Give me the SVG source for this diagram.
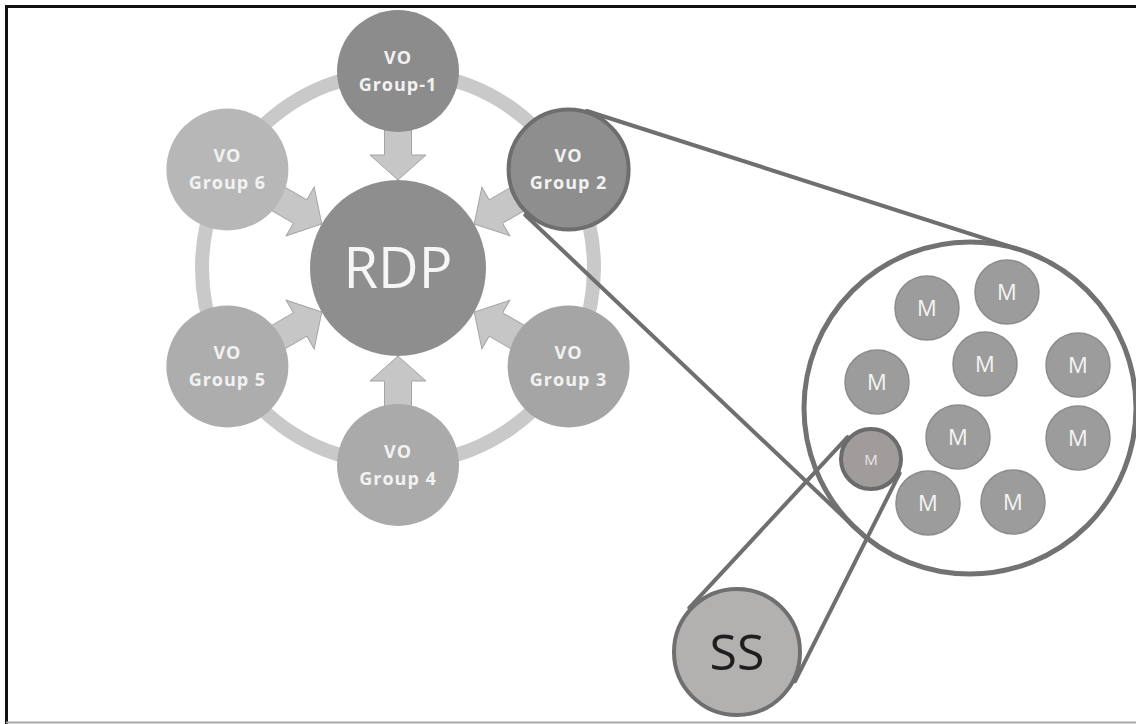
<svg xmlns="http://www.w3.org/2000/svg" xmlns:xlink="http://www.w3.org/1999/xlink" width="1136" height="724" viewBox="0 0 1136 724">
  <style>
    .grp text { font-family: "Open Sans", "Liberation Sans", sans-serif; font-weight: bold; font-size: 18px; letter-spacing: 1px; fill: #f2f2f2; text-anchor: middle; }
    .mnode circle { fill: #9c9c9c; stroke: #8c8c8c; stroke-width: 1.5; }
    .mnode text { font-family: "Open Sans", "Liberation Sans", sans-serif; font-size: 22px; fill: #f4f4f4; text-anchor: middle; }
    .arrow { fill: #c6c6c6; stroke: #a4a4a4; stroke-width: 1; stroke-linejoin: miter; }
    .zoomline { stroke: #6f6f6f; stroke-width: 4; stroke-linecap: round; fill: none; }
  </style>
  <defs>
    <!-- block arrow, tip at origin, pointing along +x -->
    <polygon id="blockArrow" points="0,0 -25,-28 -25,-13.5 -62,-13.5 -62,13.5 -25,13.5 -25,28"/>
  </defs>

  <rect width="1136" height="724" fill="#ffffff"/>
  <!-- frame -->
  <path d="M6.5,724 V6.5 H1136" fill="none" stroke="#111111" stroke-width="3"/>
  <line x1="6" y1="722.5" x2="1136" y2="722.5" stroke="#a8a8a8" stroke-width="2"/>

  <!-- ring joining the groups -->
  <circle id="ring" cx="398" cy="268" r="196" fill="none" stroke="#c9c9c9" stroke-width="14"/>

  <!-- magnified cluster outline -->
  <circle id="cluster" cx="970" cy="408" r="166" fill="#ffffff" stroke="#727272" stroke-width="5"/>

  <g id="connectors">
    <g class="arrow">
      <use xlink:href="#blockArrow" transform="translate(398,180) rotate(90)"/>
      <use xlink:href="#blockArrow" transform="translate(474.2,224) rotate(150)"/>
      <use xlink:href="#blockArrow" transform="translate(474.2,312) rotate(210)"/>
      <use xlink:href="#blockArrow" transform="translate(398,356) rotate(-90)"/>
      <use xlink:href="#blockArrow" transform="translate(321.8,312) rotate(-30)"/>
      <use xlink:href="#blockArrow" transform="translate(321.8,224) rotate(30)"/>
    </g>
    <!-- zoom lines: Group 2 to cluster -->
    <line class="zoomline" x1="586.9" y1="111" x2="1020.7" y2="249.9"/>
    <line class="zoomline" x1="525.3" y1="215" x2="855.7" y2="528.4"/>
    <!-- zoom lines: highlighted M to SS -->
    <line class="zoomline" x1="847.5" y1="437.2" x2="689.3" y2="607.8"/>
    <line class="zoomline" x1="899.6" y1="473.4" x2="795.1" y2="681.2"/>
  </g>

  <g id="rdp">
    <circle cx="398" cy="268" r="88" fill="#8e8e8e"/>
    <text x="398" y="288" font-family="Open Sans, Liberation Sans, sans-serif" font-size="56" fill="#f6f6f6" text-anchor="middle">RDP</text>
  </g>

  <g id="group1" class="grp">
    <circle cx="398" cy="71" r="61" fill="#8c8c8c"/>
    <text x="398" y="64">VO</text>
    <text x="398" y="91">Group-1</text>
  </g>
  <g id="group2" class="grp">
    <circle cx="568.6" cy="169.5" r="60" fill="#8e8e8e" stroke="#6e6e6e" stroke-width="4"/>
    <text x="568.6" y="162">VO</text>
    <text x="568.6" y="189">Group 2</text>
  </g>
  <g id="group3" class="grp">
    <circle cx="568.6" cy="366.5" r="61" fill="#a5a5a5"/>
    <text x="568.6" y="359">VO</text>
    <text x="568.6" y="386">Group 3</text>
  </g>
  <g id="group4" class="grp">
    <circle cx="398" cy="465" r="61" fill="#aaaaaa"/>
    <text x="398" y="458">VO</text>
    <text x="398" y="485">Group 4</text>
  </g>
  <g id="group5" class="grp">
    <circle cx="227.4" cy="366.5" r="61" fill="#adadad"/>
    <text x="227.4" y="359">VO</text>
    <text x="227.4" y="386">Group 5</text>
  </g>
  <g id="group6" class="grp">
    <circle cx="227.4" cy="169.5" r="61" fill="#b7b7b7"/>
    <text x="227.4" y="162">VO</text>
    <text x="227.4" y="189">Group 6</text>
  </g>

  <!-- members inside the cluster -->
  <g id="m1" class="mnode"><circle cx="927" cy="308" r="32"/><text x="927" y="316">M</text></g>
  <g id="m2" class="mnode"><circle cx="1007" cy="292" r="32"/><text x="1007" y="300">M</text></g>
  <g id="m3" class="mnode"><circle cx="877" cy="382" r="32"/><text x="877" y="390">M</text></g>
  <g id="m4" class="mnode"><circle cx="985" cy="364" r="32"/><text x="985" y="372">M</text></g>
  <g id="m5" class="mnode"><circle cx="1078" cy="365" r="32"/><text x="1078" y="373">M</text></g>
  <g id="m6" class="mnode"><circle cx="958" cy="437" r="32"/><text x="958" y="445">M</text></g>
  <g id="m7" class="mnode"><circle cx="1078" cy="438" r="32"/><text x="1078" y="446">M</text></g>
  <g id="m8" class="mnode"><circle cx="928" cy="503" r="32"/><text x="928" y="511">M</text></g>
  <g id="m9" class="mnode"><circle cx="1013" cy="502" r="32"/><text x="1013" y="510">M</text></g>

  <!-- highlighted member -->
  <g id="mSelected">
    <circle cx="871" cy="459" r="30" fill="#a09c9c" stroke="#6b6b6b" stroke-width="4"/>
    <text x="871" y="465" font-family="Open Sans, Liberation Sans, sans-serif" font-size="15" fill="#ebe7e7" text-anchor="middle">M</text>
  </g>

  <g id="ss">
    <circle cx="737" cy="652" r="63" fill="#b3b0b0" stroke="#6f6f6f" stroke-width="4"/>
    <text x="737" y="670" font-family="Open Sans, Liberation Sans, sans-serif" font-size="50" fill="#1e1e1e" text-anchor="middle">SS</text>
  </g>
</svg>
